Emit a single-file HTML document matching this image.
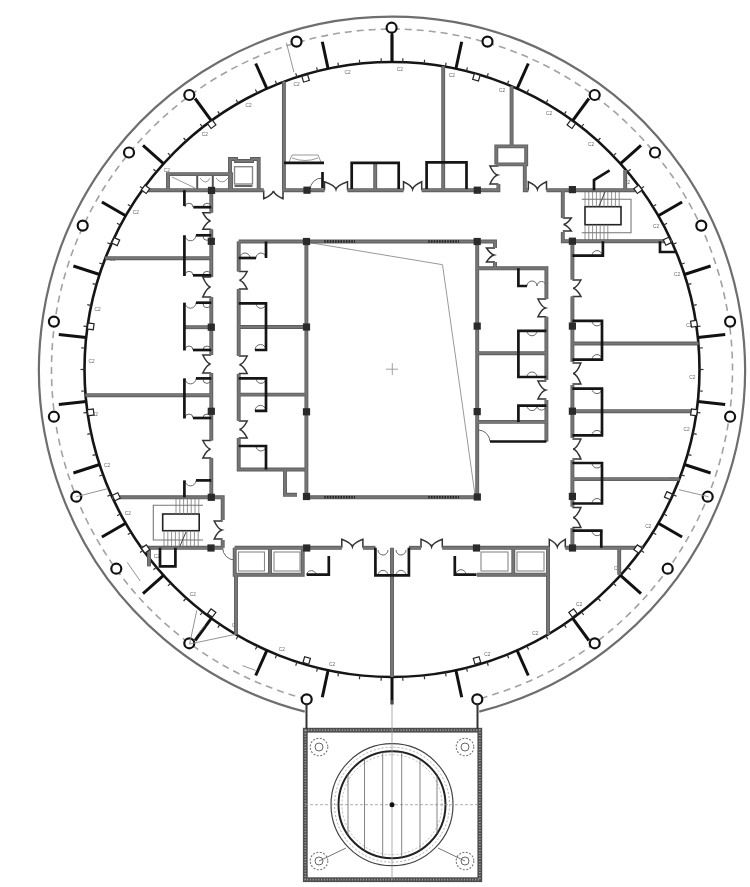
<!DOCTYPE html>
<html><head><meta charset="utf-8"><style>
html,body{margin:0;padding:0;background:#fff;}
svg{display:block;filter:blur(0.35px);}
</style></head><body>
<svg width="750" height="887" viewBox="0 0 750 887">
<path d="M304.8,711.6 A353.0,353.0 0 1 1 479.2,711.6" fill="none" stroke="#6e6e6e" stroke-width="2.2"/>
<path d="M306.7,699.2 A340.5,340.5 0 1 1 477.3,699.2" fill="none" stroke="#a2a2a2" stroke-width="1.6" stroke-dasharray="7 5"/>
<circle cx="392.0" cy="369.5" r="307.5" fill="none" stroke="#151515" stroke-width="2.6"/>
<line x1="392.0" y1="62.0" x2="392.0" y2="34.5" stroke="#111" stroke-width="3"/>
<line x1="455.9" y1="68.7" x2="461.7" y2="41.8" stroke="#111" stroke-width="3"/>
<line x1="517.1" y1="88.6" x2="528.3" y2="63.5" stroke="#111" stroke-width="3"/>
<line x1="572.7" y1="120.7" x2="588.9" y2="98.5" stroke="#111" stroke-width="3"/>
<line x1="620.5" y1="163.7" x2="641.0" y2="145.3" stroke="#111" stroke-width="3"/>
<line x1="658.3" y1="215.7" x2="682.1" y2="202.0" stroke="#111" stroke-width="3"/>
<line x1="684.4" y1="274.5" x2="710.6" y2="266.0" stroke="#111" stroke-width="3"/>
<line x1="697.8" y1="337.4" x2="725.2" y2="334.5" stroke="#111" stroke-width="3"/>
<line x1="697.8" y1="401.6" x2="725.2" y2="404.5" stroke="#111" stroke-width="3"/>
<line x1="684.4" y1="464.5" x2="710.6" y2="473.0" stroke="#111" stroke-width="3"/>
<line x1="658.3" y1="523.2" x2="682.1" y2="537.0" stroke="#111" stroke-width="3"/>
<line x1="620.5" y1="575.3" x2="641.0" y2="593.7" stroke="#111" stroke-width="3"/>
<line x1="572.7" y1="618.3" x2="588.9" y2="640.5" stroke="#111" stroke-width="3"/>
<line x1="517.1" y1="650.4" x2="528.3" y2="675.5" stroke="#111" stroke-width="3"/>
<line x1="455.9" y1="670.3" x2="461.7" y2="697.2" stroke="#111" stroke-width="3"/>
<line x1="392.0" y1="677.0" x2="392.0" y2="704.5" stroke="#111" stroke-width="3"/>
<line x1="328.1" y1="670.3" x2="322.3" y2="697.2" stroke="#111" stroke-width="3"/>
<line x1="266.9" y1="650.4" x2="255.7" y2="675.5" stroke="#111" stroke-width="3"/>
<line x1="211.3" y1="618.3" x2="195.1" y2="640.5" stroke="#111" stroke-width="3"/>
<line x1="163.5" y1="575.3" x2="143.0" y2="593.7" stroke="#111" stroke-width="3"/>
<line x1="125.7" y1="523.3" x2="101.9" y2="537.0" stroke="#111" stroke-width="3"/>
<line x1="99.6" y1="464.5" x2="73.4" y2="473.0" stroke="#111" stroke-width="3"/>
<line x1="86.2" y1="401.6" x2="58.8" y2="404.5" stroke="#111" stroke-width="3"/>
<line x1="86.2" y1="337.4" x2="58.8" y2="334.5" stroke="#111" stroke-width="3"/>
<line x1="99.6" y1="274.5" x2="73.4" y2="266.0" stroke="#111" stroke-width="3"/>
<line x1="125.7" y1="215.7" x2="101.9" y2="202.0" stroke="#111" stroke-width="3"/>
<line x1="163.5" y1="163.7" x2="143.0" y2="145.3" stroke="#111" stroke-width="3"/>
<line x1="211.3" y1="120.7" x2="195.1" y2="98.5" stroke="#111" stroke-width="3"/>
<line x1="266.9" y1="88.6" x2="255.7" y2="63.5" stroke="#111" stroke-width="3"/>
<line x1="328.1" y1="68.7" x2="322.3" y2="41.8" stroke="#111" stroke-width="3"/>
<line x1="392" y1="33" x2="392" y2="62" stroke="#111" stroke-width="2.4"/>
<circle cx="391.6" cy="27.7" r="5" fill="#fff" stroke="#111" stroke-width="2.2"/>
<circle cx="296.5" cy="41.6" r="5" fill="#fff" stroke="#111" stroke-width="2.2"/>
<circle cx="487.5" cy="41.6" r="5" fill="#fff" stroke="#111" stroke-width="2.2"/>
<circle cx="189.3" cy="95.0" r="5" fill="#fff" stroke="#111" stroke-width="2.2"/>
<circle cx="594.7" cy="95.0" r="5" fill="#fff" stroke="#111" stroke-width="2.2"/>
<circle cx="129.0" cy="152.5" r="5" fill="#fff" stroke="#111" stroke-width="2.2"/>
<circle cx="655.0" cy="152.5" r="5" fill="#fff" stroke="#111" stroke-width="2.2"/>
<circle cx="82.7" cy="225.6" r="5" fill="#fff" stroke="#111" stroke-width="2.2"/>
<circle cx="701.3" cy="225.6" r="5" fill="#fff" stroke="#111" stroke-width="2.2"/>
<circle cx="53.9" cy="321.6" r="5" fill="#fff" stroke="#111" stroke-width="2.2"/>
<circle cx="730.1" cy="321.6" r="5" fill="#fff" stroke="#111" stroke-width="2.2"/>
<circle cx="53.9" cy="416.7" r="5" fill="#fff" stroke="#111" stroke-width="2.2"/>
<circle cx="730.1" cy="416.7" r="5" fill="#fff" stroke="#111" stroke-width="2.2"/>
<circle cx="76.3" cy="496.7" r="5" fill="#fff" stroke="#111" stroke-width="2.2"/>
<circle cx="707.7" cy="496.7" r="5" fill="#fff" stroke="#111" stroke-width="2.2"/>
<circle cx="116.3" cy="568.7" r="5" fill="#fff" stroke="#111" stroke-width="2.2"/>
<circle cx="667.7" cy="568.7" r="5" fill="#fff" stroke="#111" stroke-width="2.2"/>
<circle cx="189.3" cy="643.3" r="5" fill="#fff" stroke="#111" stroke-width="2.2"/>
<circle cx="594.7" cy="643.3" r="5" fill="#fff" stroke="#111" stroke-width="2.2"/>
<circle cx="306.7" cy="699.3" r="5" fill="#fff" stroke="#111" stroke-width="2.2"/>
<circle cx="477.3" cy="699.3" r="5" fill="#fff" stroke="#111" stroke-width="2.2"/>
<line x1="402.7" y1="62.2" x2="402.9" y2="58.2" stroke="#333" stroke-width="1.2"/>
<line x1="424.1" y1="63.7" x2="424.6" y2="59.7" stroke="#333" stroke-width="1.2"/>
<line x1="445.4" y1="66.7" x2="446.1" y2="62.7" stroke="#333" stroke-width="1.2"/>
<line x1="466.4" y1="71.1" x2="467.4" y2="67.3" stroke="#333" stroke-width="1.2"/>
<line x1="487.0" y1="77.1" x2="488.3" y2="73.2" stroke="#333" stroke-width="1.2"/>
<line x1="507.2" y1="84.4" x2="508.7" y2="80.7" stroke="#333" stroke-width="1.2"/>
<line x1="526.8" y1="93.1" x2="528.6" y2="89.5" stroke="#333" stroke-width="1.2"/>
<line x1="545.8" y1="103.2" x2="547.8" y2="99.7" stroke="#333" stroke-width="1.2"/>
<line x1="564.0" y1="114.6" x2="566.2" y2="111.3" stroke="#333" stroke-width="1.2"/>
<line x1="581.3" y1="127.2" x2="583.8" y2="124.0" stroke="#333" stroke-width="1.2"/>
<line x1="597.8" y1="141.0" x2="600.4" y2="138.0" stroke="#333" stroke-width="1.2"/>
<line x1="613.2" y1="155.9" x2="616.1" y2="153.1" stroke="#333" stroke-width="1.2"/>
<line x1="627.6" y1="171.8" x2="630.6" y2="169.3" stroke="#333" stroke-width="1.2"/>
<line x1="640.8" y1="188.8" x2="644.0" y2="186.4" stroke="#333" stroke-width="1.2"/>
<line x1="652.8" y1="206.5" x2="656.2" y2="204.4" stroke="#333" stroke-width="1.2"/>
<line x1="663.5" y1="225.1" x2="667.0" y2="223.3" stroke="#333" stroke-width="1.2"/>
<line x1="672.9" y1="244.4" x2="676.6" y2="242.8" stroke="#333" stroke-width="1.2"/>
<line x1="681.0" y1="264.3" x2="684.7" y2="263.0" stroke="#333" stroke-width="1.2"/>
<line x1="687.6" y1="284.7" x2="691.4" y2="283.6" stroke="#333" stroke-width="1.2"/>
<line x1="692.8" y1="305.6" x2="696.7" y2="304.7" stroke="#333" stroke-width="1.2"/>
<line x1="696.5" y1="326.7" x2="700.5" y2="326.1" stroke="#333" stroke-width="1.2"/>
<line x1="698.8" y1="348.0" x2="702.7" y2="347.8" stroke="#333" stroke-width="1.2"/>
<line x1="699.5" y1="369.5" x2="703.5" y2="369.5" stroke="#333" stroke-width="1.2"/>
<line x1="698.8" y1="391.0" x2="702.7" y2="391.2" stroke="#333" stroke-width="1.2"/>
<line x1="696.5" y1="412.3" x2="700.5" y2="412.9" stroke="#333" stroke-width="1.2"/>
<line x1="692.8" y1="433.4" x2="696.7" y2="434.3" stroke="#333" stroke-width="1.2"/>
<line x1="687.6" y1="454.3" x2="691.4" y2="455.4" stroke="#333" stroke-width="1.2"/>
<line x1="681.0" y1="474.7" x2="684.7" y2="476.0" stroke="#333" stroke-width="1.2"/>
<line x1="672.9" y1="494.6" x2="676.6" y2="496.2" stroke="#333" stroke-width="1.2"/>
<line x1="663.5" y1="513.9" x2="667.0" y2="515.7" stroke="#333" stroke-width="1.2"/>
<line x1="652.8" y1="532.5" x2="656.2" y2="534.6" stroke="#333" stroke-width="1.2"/>
<line x1="640.8" y1="550.2" x2="644.0" y2="552.6" stroke="#333" stroke-width="1.2"/>
<line x1="627.6" y1="567.2" x2="630.6" y2="569.7" stroke="#333" stroke-width="1.2"/>
<line x1="613.2" y1="583.1" x2="616.1" y2="585.9" stroke="#333" stroke-width="1.2"/>
<line x1="597.8" y1="598.0" x2="600.4" y2="601.0" stroke="#333" stroke-width="1.2"/>
<line x1="581.3" y1="611.8" x2="583.8" y2="615.0" stroke="#333" stroke-width="1.2"/>
<line x1="564.0" y1="624.4" x2="566.2" y2="627.7" stroke="#333" stroke-width="1.2"/>
<line x1="545.8" y1="635.8" x2="547.8" y2="639.3" stroke="#333" stroke-width="1.2"/>
<line x1="526.8" y1="645.9" x2="528.6" y2="649.5" stroke="#333" stroke-width="1.2"/>
<line x1="507.2" y1="654.6" x2="508.7" y2="658.3" stroke="#333" stroke-width="1.2"/>
<line x1="487.0" y1="661.9" x2="488.3" y2="665.8" stroke="#333" stroke-width="1.2"/>
<line x1="466.4" y1="667.9" x2="467.4" y2="671.7" stroke="#333" stroke-width="1.2"/>
<line x1="445.4" y1="672.3" x2="446.1" y2="676.3" stroke="#333" stroke-width="1.2"/>
<line x1="424.1" y1="675.3" x2="424.6" y2="679.3" stroke="#333" stroke-width="1.2"/>
<line x1="402.7" y1="676.8" x2="402.9" y2="680.8" stroke="#333" stroke-width="1.2"/>
<line x1="381.3" y1="676.8" x2="381.1" y2="680.8" stroke="#333" stroke-width="1.2"/>
<line x1="359.9" y1="675.3" x2="359.4" y2="679.3" stroke="#333" stroke-width="1.2"/>
<line x1="338.6" y1="672.3" x2="337.9" y2="676.3" stroke="#333" stroke-width="1.2"/>
<line x1="317.6" y1="667.9" x2="316.6" y2="671.7" stroke="#333" stroke-width="1.2"/>
<line x1="297.0" y1="661.9" x2="295.7" y2="665.8" stroke="#333" stroke-width="1.2"/>
<line x1="276.8" y1="654.6" x2="275.3" y2="658.3" stroke="#333" stroke-width="1.2"/>
<line x1="257.2" y1="645.9" x2="255.4" y2="649.5" stroke="#333" stroke-width="1.2"/>
<line x1="238.2" y1="635.8" x2="236.2" y2="639.3" stroke="#333" stroke-width="1.2"/>
<line x1="220.0" y1="624.4" x2="217.8" y2="627.7" stroke="#333" stroke-width="1.2"/>
<line x1="202.7" y1="611.8" x2="200.2" y2="615.0" stroke="#333" stroke-width="1.2"/>
<line x1="186.2" y1="598.0" x2="183.6" y2="601.0" stroke="#333" stroke-width="1.2"/>
<line x1="170.8" y1="583.1" x2="167.9" y2="585.9" stroke="#333" stroke-width="1.2"/>
<line x1="156.4" y1="567.2" x2="153.4" y2="569.7" stroke="#333" stroke-width="1.2"/>
<line x1="143.2" y1="550.2" x2="140.0" y2="552.6" stroke="#333" stroke-width="1.2"/>
<line x1="131.2" y1="532.5" x2="127.8" y2="534.6" stroke="#333" stroke-width="1.2"/>
<line x1="120.5" y1="513.9" x2="117.0" y2="515.7" stroke="#333" stroke-width="1.2"/>
<line x1="111.1" y1="494.6" x2="107.4" y2="496.2" stroke="#333" stroke-width="1.2"/>
<line x1="103.0" y1="474.7" x2="99.3" y2="476.0" stroke="#333" stroke-width="1.2"/>
<line x1="96.4" y1="454.3" x2="92.6" y2="455.4" stroke="#333" stroke-width="1.2"/>
<line x1="91.2" y1="433.4" x2="87.3" y2="434.3" stroke="#333" stroke-width="1.2"/>
<line x1="87.5" y1="412.3" x2="83.5" y2="412.9" stroke="#333" stroke-width="1.2"/>
<line x1="85.2" y1="391.0" x2="81.3" y2="391.2" stroke="#333" stroke-width="1.2"/>
<line x1="84.5" y1="369.5" x2="80.5" y2="369.5" stroke="#333" stroke-width="1.2"/>
<line x1="85.2" y1="348.0" x2="81.3" y2="347.8" stroke="#333" stroke-width="1.2"/>
<line x1="87.5" y1="326.7" x2="83.5" y2="326.1" stroke="#333" stroke-width="1.2"/>
<line x1="91.2" y1="305.6" x2="87.3" y2="304.7" stroke="#333" stroke-width="1.2"/>
<line x1="96.4" y1="284.7" x2="92.6" y2="283.6" stroke="#333" stroke-width="1.2"/>
<line x1="103.0" y1="264.3" x2="99.3" y2="263.0" stroke="#333" stroke-width="1.2"/>
<line x1="111.1" y1="244.4" x2="107.4" y2="242.8" stroke="#333" stroke-width="1.2"/>
<line x1="120.5" y1="225.1" x2="117.0" y2="223.3" stroke="#333" stroke-width="1.2"/>
<line x1="131.2" y1="206.5" x2="127.8" y2="204.4" stroke="#333" stroke-width="1.2"/>
<line x1="143.2" y1="188.8" x2="140.0" y2="186.4" stroke="#333" stroke-width="1.2"/>
<line x1="156.4" y1="171.8" x2="153.4" y2="169.3" stroke="#333" stroke-width="1.2"/>
<line x1="170.8" y1="155.9" x2="167.9" y2="153.1" stroke="#333" stroke-width="1.2"/>
<line x1="186.2" y1="141.0" x2="183.6" y2="138.0" stroke="#333" stroke-width="1.2"/>
<line x1="202.7" y1="127.2" x2="200.2" y2="124.0" stroke="#333" stroke-width="1.2"/>
<line x1="220.0" y1="114.6" x2="217.8" y2="111.3" stroke="#333" stroke-width="1.2"/>
<line x1="238.2" y1="103.2" x2="236.2" y2="99.7" stroke="#333" stroke-width="1.2"/>
<line x1="257.2" y1="93.1" x2="255.4" y2="89.5" stroke="#333" stroke-width="1.2"/>
<line x1="276.8" y1="84.4" x2="275.3" y2="80.7" stroke="#333" stroke-width="1.2"/>
<line x1="297.0" y1="77.1" x2="295.7" y2="73.2" stroke="#333" stroke-width="1.2"/>
<line x1="317.6" y1="71.1" x2="316.6" y2="67.3" stroke="#333" stroke-width="1.2"/>
<line x1="338.6" y1="66.7" x2="337.9" y2="62.7" stroke="#333" stroke-width="1.2"/>
<line x1="359.9" y1="63.7" x2="359.4" y2="59.7" stroke="#333" stroke-width="1.2"/>
<line x1="381.3" y1="62.2" x2="381.1" y2="58.2" stroke="#333" stroke-width="1.2"/>
<rect x="305.3" y="730.2" width="174.5" height="149.5" fill="none" stroke="#4e4e4e" stroke-width="4.8"/>
<rect x="305.3" y="730.2" width="174.5" height="149.5" fill="none" stroke="#9a9a9a" stroke-width="1.8" stroke-dasharray="1.2 1.6"/>
<line x1="306.5" y1="704" x2="306.5" y2="729" stroke="#333" stroke-width="2"/>
<line x1="477.5" y1="704" x2="477.5" y2="729" stroke="#333" stroke-width="2"/>
<circle cx="392" cy="804.7" r="61" fill="none" stroke="#444" stroke-width="1.2"/>
<circle cx="392" cy="804.7" r="53.5" fill="none" stroke="#222" stroke-width="2"/>
<circle cx="392" cy="804.7" r="57.5" fill="none" stroke="#999" stroke-width="0.8" stroke-dasharray="2 2"/>
<circle cx="392" cy="804.7" r="50" fill="none" stroke="#aaa" stroke-width="0.8" stroke-dasharray="2 2"/>
<line x1="305" y1="804.7" x2="480" y2="804.7" stroke="#999" stroke-width="0.8" stroke-dasharray="3 2"/>
<line x1="392" y1="700" x2="392" y2="880" stroke="#999" stroke-width="0.8"/>
<line x1="348" y1="774.3" x2="348" y2="835.1" stroke="#666" stroke-width="0.8"/>
<line x1="364.5" y1="758.8" x2="364.5" y2="850.6" stroke="#666" stroke-width="0.8"/>
<line x1="382.7" y1="752.0" x2="382.7" y2="857.4" stroke="#666" stroke-width="0.8"/>
<line x1="401.7" y1="752.1" x2="401.7" y2="857.3" stroke="#666" stroke-width="0.8"/>
<line x1="420" y1="759.1" x2="420" y2="850.3" stroke="#666" stroke-width="0.8"/>
<line x1="437" y1="775.8" x2="437" y2="833.6" stroke="#666" stroke-width="0.8"/>
<circle cx="392" cy="804.7" r="2.5" fill="#111"/>
<circle cx="319" cy="747" r="8.8" fill="none" stroke="#777" stroke-width="1.1" stroke-dasharray="2 1.5"/>
<circle cx="319" cy="747" r="4" fill="none" stroke="#666" stroke-width="1"/>
<circle cx="465" cy="747" r="8.8" fill="none" stroke="#777" stroke-width="1.1" stroke-dasharray="2 1.5"/>
<circle cx="465" cy="747" r="4" fill="none" stroke="#666" stroke-width="1"/>
<circle cx="319" cy="861" r="8.8" fill="none" stroke="#777" stroke-width="1.1" stroke-dasharray="2 1.5"/>
<circle cx="319" cy="861" r="4" fill="none" stroke="#666" stroke-width="1"/>
<circle cx="465" cy="861" r="8.8" fill="none" stroke="#777" stroke-width="1.1" stroke-dasharray="2 1.5"/>
<circle cx="465" cy="861" r="4" fill="none" stroke="#666" stroke-width="1"/>
<line x1="319" y1="861" x2="346" y2="848" stroke="#666" stroke-width="0.9"/>
<line x1="465" y1="861" x2="438" y2="848" stroke="#666" stroke-width="0.9"/>
<line x1="197.2" y1="174.1" x2="197.2" y2="190" stroke="#555" stroke-width="2"/>
<line x1="212.8" y1="174.1" x2="212.8" y2="190" stroke="#555" stroke-width="2"/>
<path d="M172,177 L195,188 M200,178 Q206,186 210,178 M216,178 Q222,186 228,178" fill="none" stroke="#999" stroke-width="1"/>
<rect x="234.5" y="166.7" width="18" height="17.3" fill="none" stroke="#888" stroke-width="1.4"/>
<line x1="234.5" y1="186" x2="252.5" y2="186" stroke="#333" stroke-width="1.5"/>
<path d="M289,162 L292,155 L318,155 L321,162 M292,158 Q305,163 318,158" fill="none" stroke="#999" stroke-width="1"/>
<path d="M203,505.3 H153.3 V540 H203" fill="none" stroke="#777" stroke-width="1.1"/>
<rect x="162.7" y="514" width="36.5" height="16.7" fill="none" stroke="#222" stroke-width="1.6"/>
<line x1="176.0" y1="497.3" x2="176.0" y2="514" stroke="#777" stroke-width="0.8"/>
<line x1="179.8" y1="497.3" x2="179.8" y2="514" stroke="#777" stroke-width="0.8"/>
<line x1="183.6" y1="497.3" x2="183.6" y2="514" stroke="#777" stroke-width="0.8"/>
<line x1="187.4" y1="497.3" x2="187.4" y2="514" stroke="#777" stroke-width="0.8"/>
<line x1="191.2" y1="497.3" x2="191.2" y2="514" stroke="#777" stroke-width="0.8"/>
<line x1="195.0" y1="497.3" x2="195.0" y2="514" stroke="#777" stroke-width="0.8"/>
<line x1="198.8" y1="497.3" x2="198.8" y2="514" stroke="#777" stroke-width="0.8"/>
<line x1="164.0" y1="530.7" x2="164.0" y2="547.8" stroke="#777" stroke-width="0.8"/>
<line x1="167.8" y1="530.7" x2="167.8" y2="547.8" stroke="#777" stroke-width="0.8"/>
<line x1="171.6" y1="530.7" x2="171.6" y2="547.8" stroke="#777" stroke-width="0.8"/>
<line x1="175.4" y1="530.7" x2="175.4" y2="547.8" stroke="#777" stroke-width="0.8"/>
<line x1="179.2" y1="530.7" x2="179.2" y2="547.8" stroke="#777" stroke-width="0.8"/>
<line x1="183.0" y1="530.7" x2="183.0" y2="547.8" stroke="#777" stroke-width="0.8"/>
<line x1="186.8" y1="530.7" x2="186.8" y2="547.8" stroke="#777" stroke-width="0.8"/>
<line x1="190.6" y1="530.7" x2="190.6" y2="547.8" stroke="#777" stroke-width="0.8"/>
<line x1="194.4" y1="530.7" x2="194.4" y2="547.8" stroke="#777" stroke-width="0.8"/>
<line x1="198.2" y1="530.7" x2="198.2" y2="547.8" stroke="#777" stroke-width="0.8"/>
<line x1="180" y1="546" x2="186" y2="532" stroke="#444" stroke-width="1"/>
<rect x="238.5" y="552" width="26" height="19" fill="none" stroke="#888" stroke-width="1.1"/>
<rect x="274" y="552" width="26" height="19" fill="none" stroke="#888" stroke-width="1.1"/>
<rect x="481" y="552" width="27" height="19" fill="none" stroke="#888" stroke-width="1.1"/>
<rect x="517" y="552" width="27" height="19" fill="none" stroke="#888" stroke-width="1.1"/>
<path d="M581.7,199.3 H631 V232.7 H581.7" fill="none" stroke="#777" stroke-width="1.1"/>
<rect x="585" y="206.7" width="36" height="18" fill="none" stroke="#222" stroke-width="1.6"/>
<line x1="585.0" y1="190.2" x2="585.0" y2="206.7" stroke="#777" stroke-width="0.8"/>
<line x1="588.8" y1="190.2" x2="588.8" y2="206.7" stroke="#777" stroke-width="0.8"/>
<line x1="592.6" y1="190.2" x2="592.6" y2="206.7" stroke="#777" stroke-width="0.8"/>
<line x1="596.4" y1="190.2" x2="596.4" y2="206.7" stroke="#777" stroke-width="0.8"/>
<line x1="600.2" y1="190.2" x2="600.2" y2="206.7" stroke="#777" stroke-width="0.8"/>
<line x1="604.0" y1="190.2" x2="604.0" y2="206.7" stroke="#777" stroke-width="0.8"/>
<line x1="607.8" y1="190.2" x2="607.8" y2="206.7" stroke="#777" stroke-width="0.8"/>
<line x1="611.6" y1="190.2" x2="611.6" y2="206.7" stroke="#777" stroke-width="0.8"/>
<line x1="615.4" y1="190.2" x2="615.4" y2="206.7" stroke="#777" stroke-width="0.8"/>
<line x1="619.2" y1="190.2" x2="619.2" y2="206.7" stroke="#777" stroke-width="0.8"/>
<line x1="585.0" y1="224.7" x2="585.0" y2="241.2" stroke="#777" stroke-width="0.8"/>
<line x1="588.8" y1="224.7" x2="588.8" y2="241.2" stroke="#777" stroke-width="0.8"/>
<line x1="592.6" y1="224.7" x2="592.6" y2="241.2" stroke="#777" stroke-width="0.8"/>
<line x1="596.4" y1="224.7" x2="596.4" y2="241.2" stroke="#777" stroke-width="0.8"/>
<line x1="600.2" y1="224.7" x2="600.2" y2="241.2" stroke="#777" stroke-width="0.8"/>
<line x1="604.0" y1="224.7" x2="604.0" y2="241.2" stroke="#777" stroke-width="0.8"/>
<line x1="607.8" y1="224.7" x2="607.8" y2="241.2" stroke="#777" stroke-width="0.8"/>
<line x1="599" y1="206" x2="605" y2="192" stroke="#444" stroke-width="1"/>
<polyline points="306,242 442.5,264.7 461.7,400 475,495" fill="none" stroke="#999" stroke-width="1"/>
<path d="M386,369.2 H398 M392.3,363 V375" stroke="#999" stroke-width="0.9"/>
<path d="M211.3,212.7 H202.8 Q206.6,220.0 210.5,221.0 Q206.6,222.0 202.8,229.3 H211.3" fill="none" stroke="#333" stroke-width="1.5"/>
<path d="M211.3,277.0 H202.8 Q206.6,286.0 210.5,287.0 Q206.6,288.0 202.8,297.0 H211.3" fill="none" stroke="#333" stroke-width="1.5"/>
<path d="M211.3,355.0 H202.8 Q206.6,363.0 210.5,364.0 Q206.6,365.0 202.8,373.0 H211.3" fill="none" stroke="#333" stroke-width="1.5"/>
<path d="M211.3,440.5 H202.8 Q206.6,448.2 210.5,449.2 Q206.6,450.2 202.8,458.0 H211.3" fill="none" stroke="#333" stroke-width="1.5"/>
<path d="M238.7,271.5 H247.2 Q243.4,279.2 239.5,280.2 Q243.4,281.2 247.2,289.0 H238.7" fill="none" stroke="#333" stroke-width="1.5"/>
<path d="M238.7,356.0 H247.2 Q243.4,363.8 239.5,364.8 Q243.4,365.8 247.2,373.5 H238.7" fill="none" stroke="#333" stroke-width="1.5"/>
<path d="M238.7,421.0 H247.2 Q243.4,428.5 239.5,429.5 Q243.4,430.5 247.2,438.0 H238.7" fill="none" stroke="#333" stroke-width="1.5"/>
<path d="M546.4,299.0 H537.9 Q541.7,306.9 545.5,307.9 Q541.7,308.9 537.9,316.8 H546.4" fill="none" stroke="#333" stroke-width="1.5"/>
<path d="M546.4,381.0 H537.9 Q541.7,389.0 545.5,390.0 Q541.7,391.0 537.9,399.0 H546.4" fill="none" stroke="#333" stroke-width="1.5"/>
<path d="M572.4,280.0 H580.9 Q577.1,287.2 573.2,288.2 Q577.1,289.2 580.9,296.4 H572.4" fill="none" stroke="#333" stroke-width="1.5"/>
<path d="M572.4,363.0 H580.9 Q577.1,372.5 573.2,373.5 Q577.1,374.5 580.9,384.0 H572.4" fill="none" stroke="#333" stroke-width="1.5"/>
<path d="M572.4,439.0 H580.9 Q577.1,448.0 573.2,449.0 Q577.1,450.0 580.9,459.0 H572.4" fill="none" stroke="#333" stroke-width="1.5"/>
<path d="M572.4,507.5 H580.9 Q577.1,516.5 573.2,517.5 Q577.1,518.5 580.9,527.5 H572.4" fill="none" stroke="#333" stroke-width="1.5"/>
<path d="M498.4,166.0 H489.9 Q493.7,174.0 497.5,175.0 Q493.7,176.0 489.9,184.0 H498.4" fill="none" stroke="#333" stroke-width="1.5"/>
<path d="M495.0,248.0 H486.5 Q490.3,254.0 494.1,255.0 Q490.3,256.0 486.5,262.0 H495.0" fill="none" stroke="#333" stroke-width="1.5"/>
<path d="M222.7,521.0 H214.2 Q218.0,529.0 221.8,530.0 Q218.0,531.0 214.2,539.0 H222.7" fill="none" stroke="#333" stroke-width="1.5"/>
<path d="M562.8,218.0 H571.3 Q567.5,223.5 563.6,224.5 Q567.5,225.5 571.3,231.0 H562.8" fill="none" stroke="#333" stroke-width="1.5"/>
<path d="M263.7,190.2 V198.7 Q272.4,194.9 273.4,191.0 Q274.4,194.9 283.0,198.7 V190.2" fill="none" stroke="#333" stroke-width="1.5"/>
<path d="M324.5,190.2 V181.7 Q335.0,185.5 336.0,189.3 Q337.0,185.5 347.5,181.7 V190.2" fill="none" stroke="#333" stroke-width="1.5"/>
<path d="M403.5,190.2 V181.7 Q411.6,185.5 412.6,189.3 Q413.6,185.5 421.7,181.7 V190.2" fill="none" stroke="#333" stroke-width="1.5"/>
<path d="M528.3,190.2 V181.7 Q536.4,185.5 537.4,189.3 Q538.4,185.5 546.5,181.7 V190.2" fill="none" stroke="#333" stroke-width="1.5"/>
<path d="M341.8,547.8 V539.3 Q351.4,543.1 352.4,546.9 Q353.4,543.1 362.9,539.3 V547.8" fill="none" stroke="#333" stroke-width="1.5"/>
<path d="M421.0,547.8 V539.3 Q430.6,543.1 431.6,546.9 Q432.6,543.1 442.3,539.3 V547.8" fill="none" stroke="#333" stroke-width="1.5"/>
<path d="M549.3,547.8 V539.3 Q556.3,543.1 557.3,546.9 Q558.3,543.1 565.3,539.3 V547.8" fill="none" stroke="#333" stroke-width="1.5"/>
<path d="M185.0,207.2 A4.0,4.0 0 0 1 193.0,207.2" fill="none" stroke="#666" stroke-width="1"/>
<path d="M185.0,275.3 A4.0,4.0 0 0 1 193.0,275.3" fill="none" stroke="#666" stroke-width="1"/>
<path d="M185.0,350.0 A4.0,4.0 0 0 1 193.0,350.0" fill="none" stroke="#666" stroke-width="1"/>
<path d="M185.0,418.0 A4.0,4.0 0 0 1 193.0,418.0" fill="none" stroke="#666" stroke-width="1"/>
<path d="M185.0,235.3 A5.5,5.5 0 0 0 196.0,235.3" fill="none" stroke="#666" stroke-width="1"/>
<path d="M185.0,302.7 A5.5,5.5 0 0 0 196.0,302.7" fill="none" stroke="#666" stroke-width="1"/>
<path d="M185.0,378.4 A5.5,5.5 0 0 0 196.0,378.4" fill="none" stroke="#666" stroke-width="1"/>
<path d="M185.0,480.4 A5.5,5.5 0 0 0 196.0,480.4" fill="none" stroke="#666" stroke-width="1"/>
<path d="M203.0,207.2 A4.0,4.0 0 0 1 211.0,207.2" fill="none" stroke="#666" stroke-width="1"/>
<path d="M203.0,275.3 A4.0,4.0 0 0 1 211.0,275.3" fill="none" stroke="#666" stroke-width="1"/>
<path d="M203.0,350.0 A4.0,4.0 0 0 1 211.0,350.0" fill="none" stroke="#666" stroke-width="1"/>
<path d="M203.0,418.0 A4.0,4.0 0 0 1 211.0,418.0" fill="none" stroke="#666" stroke-width="1"/>
<path d="M203.0,236.3 A4.0,4.0 0 0 0 211.0,236.3" fill="none" stroke="#666" stroke-width="1"/>
<path d="M203.0,303.7 A4.0,4.0 0 0 0 211.0,303.7" fill="none" stroke="#666" stroke-width="1"/>
<path d="M203.0,379.4 A4.0,4.0 0 0 0 211.0,379.4" fill="none" stroke="#666" stroke-width="1"/>
<path d="M240.0,258.0 A5.0,5.0 0 0 1 250.0,258.0" fill="none" stroke="#666" stroke-width="1"/>
<path d="M256.0,258.0 A5.0,5.0 0 0 1 266.0,258.0" fill="none" stroke="#666" stroke-width="1"/>
<path d="M256.0,303.3 A5.0,5.0 0 0 0 266.0,303.3" fill="none" stroke="#666" stroke-width="1"/>
<path d="M256.0,378.4 A5.0,5.0 0 0 0 266.0,378.4" fill="none" stroke="#666" stroke-width="1"/>
<path d="M256.0,446.0 A5.0,5.0 0 0 0 266.0,446.0" fill="none" stroke="#666" stroke-width="1"/>
<path d="M255.0,350.0 A5.5,5.5 0 0 1 266.0,350.0" fill="none" stroke="#666" stroke-width="1"/>
<path d="M255.0,410.9 A5.5,5.5 0 0 1 266.0,410.9" fill="none" stroke="#666" stroke-width="1"/>
<path d="M592.0,255.6 A5.0,5.0 0 0 1 602.0,255.6" fill="none" stroke="#666" stroke-width="1"/>
<path d="M592.0,359.6 A5.0,5.0 0 0 1 602.0,359.6" fill="none" stroke="#666" stroke-width="1"/>
<path d="M592.0,435.4 A5.0,5.0 0 0 1 602.0,435.4" fill="none" stroke="#666" stroke-width="1"/>
<path d="M592.0,503.5 A5.0,5.0 0 0 1 602.0,503.5" fill="none" stroke="#666" stroke-width="1"/>
<path d="M592.0,320.9 A5.0,5.0 0 0 0 602.0,320.9" fill="none" stroke="#666" stroke-width="1"/>
<path d="M592.0,388.6 A5.0,5.0 0 0 0 602.0,388.6" fill="none" stroke="#666" stroke-width="1"/>
<path d="M592.0,463.0 A5.0,5.0 0 0 0 602.0,463.0" fill="none" stroke="#666" stroke-width="1"/>
<path d="M592.0,530.7 A5.0,5.0 0 0 0 602.0,530.7" fill="none" stroke="#666" stroke-width="1"/>
<path d="M527.0,286.0 A5.0,5.0 0 0 1 537.0,286.0" fill="none" stroke="#666" stroke-width="1"/>
<path d="M537.0,286.0 A4.5,4.5 0 0 1 546.0,286.0" fill="none" stroke="#666" stroke-width="1"/>
<path d="M527.0,330.8 A5.0,5.0 0 0 0 537.0,330.8" fill="none" stroke="#666" stroke-width="1"/>
<path d="M527.0,377.0 A5.0,5.0 0 0 1 537.0,377.0" fill="none" stroke="#666" stroke-width="1"/>
<path d="M527.0,405.6 A5.0,5.0 0 0 0 537.0,405.6" fill="none" stroke="#666" stroke-width="1"/>
<path d="M537.0,405.6 A4.5,4.5 0 0 0 546.0,405.6" fill="none" stroke="#666" stroke-width="1"/>
<path d="M478.5,430.0 A12.0,12.0 0 0 1 490.0,441.5" fill="none" stroke="#666" stroke-width="1"/>
<path d="M222.7,548.0 A12.0,12.0 0 0 0 234.7,560.0" fill="none" stroke="#666" stroke-width="1"/>
<path d="M306.7,574.7 A4.7,4.7 0 0 1 316.0,574.7" fill="none" stroke="#666" stroke-width="1"/>
<path d="M378.0,575.3 A5.0,5.0 0 0 1 388.0,575.3" fill="none" stroke="#666" stroke-width="1"/>
<path d="M396.0,575.3 A5.0,5.0 0 0 1 406.0,575.3" fill="none" stroke="#666" stroke-width="1"/>
<path d="M456.0,574.7 A5.0,5.0 0 0 1 466.0,574.7" fill="none" stroke="#666" stroke-width="1"/>
<path d="M378.0,550.0 A5.0,5.0 0 0 0 388.0,550.0" fill="none" stroke="#666" stroke-width="1"/>
<path d="M396.0,550.0 A5.0,5.0 0 0 0 406.0,550.0" fill="none" stroke="#666" stroke-width="1"/>
<path d="M310.0,190.2 A12.0,12.0 0 0 1 322.5,178.0" fill="none" stroke="#666" stroke-width="1"/>
<path d="M189.6,644 L196.8,610.4 M189.6,644 L235.2,634.4 M242.4,665.6 L255.6,670.4 M286.4,42.7 L293.9,72 M679,489.7 L708.4,496.7 M205,625 L198,634 M76.3,496.7 L107.6,488.7 M127.2,562.3 L140.2,581" fill="none" stroke="#888" stroke-width="0.9"/>
<text x="399.9" y="70.7" font-family="Liberation Sans, sans-serif" font-size="4.8" fill="#666" text-anchor="middle">C2</text>
<text x="451.9" y="76.6" font-family="Liberation Sans, sans-serif" font-size="4.8" fill="#666" text-anchor="middle">C2</text>
<text x="502.1" y="91.5" font-family="Liberation Sans, sans-serif" font-size="4.8" fill="#666" text-anchor="middle">C2</text>
<text x="549.0" y="114.9" font-family="Liberation Sans, sans-serif" font-size="4.8" fill="#666" text-anchor="middle">C2</text>
<text x="591.1" y="146.0" font-family="Liberation Sans, sans-serif" font-size="4.8" fill="#666" text-anchor="middle">C2</text>
<text x="627.2" y="184.0" font-family="Liberation Sans, sans-serif" font-size="4.8" fill="#666" text-anchor="middle">C2</text>
<text x="656.1" y="227.7" font-family="Liberation Sans, sans-serif" font-size="4.8" fill="#666" text-anchor="middle">C2</text>
<text x="677.0" y="275.7" font-family="Liberation Sans, sans-serif" font-size="4.8" fill="#666" text-anchor="middle">C2</text>
<text x="689.2" y="326.7" font-family="Liberation Sans, sans-serif" font-size="4.8" fill="#666" text-anchor="middle">C2</text>
<text x="692.4" y="379.0" font-family="Liberation Sans, sans-serif" font-size="4.8" fill="#666" text-anchor="middle">C2</text>
<text x="686.5" y="431.0" font-family="Liberation Sans, sans-serif" font-size="4.8" fill="#666" text-anchor="middle">C2</text>
<text x="671.6" y="481.2" font-family="Liberation Sans, sans-serif" font-size="4.8" fill="#666" text-anchor="middle">C2</text>
<text x="648.2" y="528.1" font-family="Liberation Sans, sans-serif" font-size="4.8" fill="#666" text-anchor="middle">C2</text>
<text x="617.1" y="570.2" font-family="Liberation Sans, sans-serif" font-size="4.8" fill="#666" text-anchor="middle">C2</text>
<text x="579.1" y="606.3" font-family="Liberation Sans, sans-serif" font-size="4.8" fill="#666" text-anchor="middle">C2</text>
<text x="535.4" y="635.2" font-family="Liberation Sans, sans-serif" font-size="4.8" fill="#666" text-anchor="middle">C2</text>
<text x="487.4" y="656.1" font-family="Liberation Sans, sans-serif" font-size="4.8" fill="#666" text-anchor="middle">C2</text>
<text x="332.1" y="665.6" font-family="Liberation Sans, sans-serif" font-size="4.8" fill="#666" text-anchor="middle">C2</text>
<text x="281.9" y="650.7" font-family="Liberation Sans, sans-serif" font-size="4.8" fill="#666" text-anchor="middle">C2</text>
<text x="235.0" y="627.3" font-family="Liberation Sans, sans-serif" font-size="4.8" fill="#666" text-anchor="middle">C2</text>
<text x="192.9" y="596.2" font-family="Liberation Sans, sans-serif" font-size="4.8" fill="#666" text-anchor="middle">C2</text>
<text x="156.8" y="558.2" font-family="Liberation Sans, sans-serif" font-size="4.8" fill="#666" text-anchor="middle">C2</text>
<text x="127.9" y="514.5" font-family="Liberation Sans, sans-serif" font-size="4.8" fill="#666" text-anchor="middle">C2</text>
<text x="107.0" y="466.5" font-family="Liberation Sans, sans-serif" font-size="4.8" fill="#666" text-anchor="middle">C2</text>
<text x="94.8" y="415.5" font-family="Liberation Sans, sans-serif" font-size="4.8" fill="#666" text-anchor="middle">C2</text>
<text x="91.6" y="363.2" font-family="Liberation Sans, sans-serif" font-size="4.8" fill="#666" text-anchor="middle">C2</text>
<text x="97.5" y="311.2" font-family="Liberation Sans, sans-serif" font-size="4.8" fill="#666" text-anchor="middle">C2</text>
<text x="112.4" y="261.0" font-family="Liberation Sans, sans-serif" font-size="4.8" fill="#666" text-anchor="middle">C2</text>
<text x="135.8" y="214.1" font-family="Liberation Sans, sans-serif" font-size="4.8" fill="#666" text-anchor="middle">C2</text>
<text x="166.9" y="172.0" font-family="Liberation Sans, sans-serif" font-size="4.8" fill="#666" text-anchor="middle">C2</text>
<text x="204.9" y="135.9" font-family="Liberation Sans, sans-serif" font-size="4.8" fill="#666" text-anchor="middle">C2</text>
<text x="248.6" y="107.0" font-family="Liberation Sans, sans-serif" font-size="4.8" fill="#666" text-anchor="middle">C2</text>
<text x="296.6" y="86.1" font-family="Liberation Sans, sans-serif" font-size="4.8" fill="#666" text-anchor="middle">C2</text>
<text x="347.6" y="73.9" font-family="Liberation Sans, sans-serif" font-size="4.8" fill="#666" text-anchor="middle">C2</text>
<polyline points="142.2,190.2 263.7,190.2" fill="none" stroke="#5c5c5c" stroke-width="3.9" stroke-linejoin="miter"/>
<polyline points="283.0,190.2 324.5,190.2" fill="none" stroke="#5c5c5c" stroke-width="3.9" stroke-linejoin="miter"/>
<polyline points="347.5,190.2 403.5,190.2" fill="none" stroke="#5c5c5c" stroke-width="3.9" stroke-linejoin="miter"/>
<polyline points="421.7,190.2 498.4,190.2 498.4,184.0" fill="none" stroke="#5c5c5c" stroke-width="3.9" stroke-linejoin="miter"/>
<polyline points="498.4,166.0 498.4,164.4" fill="none" stroke="#5c5c5c" stroke-width="3.9" stroke-linejoin="miter"/>
<polyline points="524.8,164.4 524.8,190.2 528.3,190.2" fill="none" stroke="#5c5c5c" stroke-width="3.9" stroke-linejoin="miter"/>
<polyline points="546.5,190.2 641.8,190.2" fill="none" stroke="#5c5c5c" stroke-width="3.9" stroke-linejoin="miter"/>
<polyline points="283.9,81.6 283.9,190.2" fill="none" stroke="#5c5c5c" stroke-width="3.9" stroke-linejoin="miter"/>
<polyline points="443.2,66.3 443.2,190.2" fill="none" stroke="#5c5c5c" stroke-width="3.9" stroke-linejoin="miter"/>
<polyline points="511.6,86.2 511.6,146.4" fill="none" stroke="#5c5c5c" stroke-width="3.9" stroke-linejoin="miter"/>
<polyline points="168.0,190.2 168.0,174.1 231.0,174.1 231.0,190.2" fill="none" stroke="#5c5c5c" stroke-width="3.9" stroke-linejoin="miter"/>
<polyline points="230.0,190.2 230.0,159.0 236.0,159.0 236.0,161.0 252.0,161.0 252.0,159.0 258.7,159.0 258.7,190.2" fill="none" stroke="#5c5c5c" stroke-width="3.9" stroke-linejoin="miter"/>
<polyline points="375.2,162.8 375.2,190.2" fill="none" stroke="#5c5c5c" stroke-width="3.9" stroke-linejoin="miter"/>
<polyline points="496.3,164.4 496.3,146.4 526.2,146.4 526.2,164.4 496.3,164.4" fill="none" stroke="#5c5c5c" stroke-width="3.9" stroke-linejoin="miter"/>
<polyline points="625.2,170.0 625.2,190.2" fill="none" stroke="#5c5c5c" stroke-width="3.9" stroke-linejoin="miter"/>
<polyline points="211.3,190.2 211.3,212.7" fill="none" stroke="#5c5c5c" stroke-width="3.9" stroke-linejoin="miter"/>
<polyline points="211.3,229.3 211.3,277.0" fill="none" stroke="#5c5c5c" stroke-width="3.9" stroke-linejoin="miter"/>
<polyline points="211.3,297.0 211.3,355.0" fill="none" stroke="#5c5c5c" stroke-width="3.9" stroke-linejoin="miter"/>
<polyline points="211.3,373.0 211.3,440.5" fill="none" stroke="#5c5c5c" stroke-width="3.9" stroke-linejoin="miter"/>
<polyline points="211.3,458.0 211.3,497.3" fill="none" stroke="#5c5c5c" stroke-width="3.9" stroke-linejoin="miter"/>
<polyline points="105.3,258.2 211.3,258.2" fill="none" stroke="#5c5c5c" stroke-width="3.9" stroke-linejoin="miter"/>
<polyline points="85.6,395.2 211.3,395.2" fill="none" stroke="#5c5c5c" stroke-width="3.9" stroke-linejoin="miter"/>
<polyline points="184.4,327.2 211.3,327.2" fill="none" stroke="#5c5c5c" stroke-width="3.9" stroke-linejoin="miter"/>
<polyline points="112.3,497.3 222.7,497.3 222.7,520.0" fill="none" stroke="#5c5c5c" stroke-width="3.9" stroke-linejoin="miter"/>
<polyline points="222.7,540.0 222.7,547.8" fill="none" stroke="#5c5c5c" stroke-width="3.9" stroke-linejoin="miter"/>
<polyline points="141.5,547.8 222.7,547.8" fill="none" stroke="#5c5c5c" stroke-width="3.9" stroke-linejoin="miter"/>
<polyline points="234.7,547.8 341.8,547.8" fill="none" stroke="#5c5c5c" stroke-width="3.9" stroke-linejoin="miter"/>
<polyline points="362.9,547.8 375.4,547.8" fill="none" stroke="#5c5c5c" stroke-width="3.9" stroke-linejoin="miter"/>
<polyline points="408.9,547.8 421.0,547.8" fill="none" stroke="#5c5c5c" stroke-width="3.9" stroke-linejoin="miter"/>
<polyline points="442.3,547.8 549.3,547.8" fill="none" stroke="#5c5c5c" stroke-width="3.9" stroke-linejoin="miter"/>
<polyline points="565.3,547.8 642.5,547.8" fill="none" stroke="#5c5c5c" stroke-width="3.9" stroke-linejoin="miter"/>
<polyline points="234.7,547.8 234.7,574.7 302.7,574.7 302.7,547.8" fill="none" stroke="#5c5c5c" stroke-width="3.9" stroke-linejoin="miter"/>
<polyline points="270.0,547.8 270.0,574.7" fill="none" stroke="#5c5c5c" stroke-width="3.9" stroke-linejoin="miter"/>
<polyline points="236.0,574.7 236.0,634.5" fill="none" stroke="#5c5c5c" stroke-width="3.9" stroke-linejoin="miter"/>
<polyline points="392.0,547.8 392.0,677.0" fill="none" stroke="#5c5c5c" stroke-width="3.9" stroke-linejoin="miter"/>
<polyline points="477.0,574.7 548.0,574.7 548.0,547.8" fill="none" stroke="#5c5c5c" stroke-width="3.9" stroke-linejoin="miter"/>
<polyline points="513.3,547.8 513.3,574.7" fill="none" stroke="#5c5c5c" stroke-width="3.9" stroke-linejoin="miter"/>
<polyline points="548.0,574.7 548.0,634.5" fill="none" stroke="#5c5c5c" stroke-width="3.9" stroke-linejoin="miter"/>
<polyline points="619.2,547.8 619.2,574.7" fill="none" stroke="#5c5c5c" stroke-width="3.9" stroke-linejoin="miter"/>
<polyline points="149.0,547.8 149.0,566.3" fill="none" stroke="#5c5c5c" stroke-width="3.9" stroke-linejoin="miter"/>
<polyline points="572.4,241.2 572.4,279.6" fill="none" stroke="#5c5c5c" stroke-width="3.9" stroke-linejoin="miter"/>
<polyline points="572.4,296.4 572.4,362.0" fill="none" stroke="#5c5c5c" stroke-width="3.9" stroke-linejoin="miter"/>
<polyline points="572.4,385.0 572.4,438.0" fill="none" stroke="#5c5c5c" stroke-width="3.9" stroke-linejoin="miter"/>
<polyline points="572.4,460.0 572.4,506.7" fill="none" stroke="#5c5c5c" stroke-width="3.9" stroke-linejoin="miter"/>
<polyline points="572.4,528.0 572.4,547.8" fill="none" stroke="#5c5c5c" stroke-width="3.9" stroke-linejoin="miter"/>
<polyline points="562.8,190.2 562.8,218.0" fill="none" stroke="#5c5c5c" stroke-width="3.9" stroke-linejoin="miter"/>
<polyline points="562.8,232.0 562.8,241.2 671.5,241.2" fill="none" stroke="#5c5c5c" stroke-width="3.9" stroke-linejoin="miter"/>
<polyline points="572.4,343.5 698.4,343.5" fill="none" stroke="#5c5c5c" stroke-width="3.9" stroke-linejoin="miter"/>
<polyline points="572.4,411.2 696.7,411.2" fill="none" stroke="#5c5c5c" stroke-width="3.9" stroke-linejoin="miter"/>
<polyline points="572.4,479.1 679.3,479.1" fill="none" stroke="#5c5c5c" stroke-width="3.9" stroke-linejoin="miter"/>
<polyline points="238.7,241.5 477.2,241.5 495.0,241.5 495.0,248.0" fill="none" stroke="#5c5c5c" stroke-width="3.9" stroke-linejoin="miter"/>
<polyline points="495.0,262.0 495.0,268.3" fill="none" stroke="#5c5c5c" stroke-width="3.9" stroke-linejoin="miter"/>
<polyline points="306.4,241.5 306.4,497.3 477.2,497.3 477.2,241.5" fill="none" stroke="#5c5c5c" stroke-width="3.9" stroke-linejoin="miter"/>
<polyline points="238.7,241.5 238.7,271.5" fill="none" stroke="#5c5c5c" stroke-width="3.9" stroke-linejoin="miter"/>
<polyline points="238.7,289.0 238.7,355.8" fill="none" stroke="#5c5c5c" stroke-width="3.9" stroke-linejoin="miter"/>
<polyline points="238.7,373.9 238.7,420.8" fill="none" stroke="#5c5c5c" stroke-width="3.9" stroke-linejoin="miter"/>
<polyline points="238.7,438.0 238.7,469.5 306.4,469.5" fill="none" stroke="#5c5c5c" stroke-width="3.9" stroke-linejoin="miter"/>
<polyline points="238.7,327.0 306.4,327.0" fill="none" stroke="#5c5c5c" stroke-width="3.9" stroke-linejoin="miter"/>
<polyline points="238.7,394.6 306.4,394.6" fill="none" stroke="#5c5c5c" stroke-width="3.9" stroke-linejoin="miter"/>
<polyline points="285.0,469.5 285.0,494.8 297.0,494.8" fill="none" stroke="#5c5c5c" stroke-width="3.9" stroke-linejoin="miter"/>
<polyline points="477.2,268.3 546.4,268.3 546.4,299.0" fill="none" stroke="#5c5c5c" stroke-width="3.9" stroke-linejoin="miter"/>
<polyline points="546.4,316.8 546.4,380.0" fill="none" stroke="#5c5c5c" stroke-width="3.9" stroke-linejoin="miter"/>
<polyline points="546.4,400.0 546.4,441.5" fill="none" stroke="#5c5c5c" stroke-width="3.9" stroke-linejoin="miter"/>
<polyline points="477.2,353.2 546.4,353.2" fill="none" stroke="#5c5c5c" stroke-width="3.9" stroke-linejoin="miter"/>
<polyline points="477.2,421.9 546.4,421.9" fill="none" stroke="#5c5c5c" stroke-width="3.9" stroke-linejoin="miter"/>
<polyline points="142.2,190.2 263.7,190.2" fill="none" stroke="#767676" stroke-width="2.2" stroke-linejoin="miter"/>
<polyline points="283.0,190.2 324.5,190.2" fill="none" stroke="#767676" stroke-width="2.2" stroke-linejoin="miter"/>
<polyline points="347.5,190.2 403.5,190.2" fill="none" stroke="#767676" stroke-width="2.2" stroke-linejoin="miter"/>
<polyline points="421.7,190.2 498.4,190.2 498.4,184.0" fill="none" stroke="#767676" stroke-width="2.2" stroke-linejoin="miter"/>
<polyline points="498.4,166.0 498.4,164.4" fill="none" stroke="#767676" stroke-width="2.2" stroke-linejoin="miter"/>
<polyline points="524.8,164.4 524.8,190.2 528.3,190.2" fill="none" stroke="#767676" stroke-width="2.2" stroke-linejoin="miter"/>
<polyline points="546.5,190.2 641.8,190.2" fill="none" stroke="#767676" stroke-width="2.2" stroke-linejoin="miter"/>
<polyline points="283.9,81.6 283.9,190.2" fill="none" stroke="#767676" stroke-width="2.2" stroke-linejoin="miter"/>
<polyline points="443.2,66.3 443.2,190.2" fill="none" stroke="#767676" stroke-width="2.2" stroke-linejoin="miter"/>
<polyline points="511.6,86.2 511.6,146.4" fill="none" stroke="#767676" stroke-width="2.2" stroke-linejoin="miter"/>
<polyline points="168.0,190.2 168.0,174.1 231.0,174.1 231.0,190.2" fill="none" stroke="#767676" stroke-width="2.2" stroke-linejoin="miter"/>
<polyline points="230.0,190.2 230.0,159.0 236.0,159.0 236.0,161.0 252.0,161.0 252.0,159.0 258.7,159.0 258.7,190.2" fill="none" stroke="#767676" stroke-width="2.2" stroke-linejoin="miter"/>
<polyline points="375.2,162.8 375.2,190.2" fill="none" stroke="#767676" stroke-width="2.2" stroke-linejoin="miter"/>
<polyline points="496.3,164.4 496.3,146.4 526.2,146.4 526.2,164.4 496.3,164.4" fill="none" stroke="#767676" stroke-width="2.2" stroke-linejoin="miter"/>
<polyline points="625.2,170.0 625.2,190.2" fill="none" stroke="#767676" stroke-width="2.2" stroke-linejoin="miter"/>
<polyline points="211.3,190.2 211.3,212.7" fill="none" stroke="#767676" stroke-width="2.2" stroke-linejoin="miter"/>
<polyline points="211.3,229.3 211.3,277.0" fill="none" stroke="#767676" stroke-width="2.2" stroke-linejoin="miter"/>
<polyline points="211.3,297.0 211.3,355.0" fill="none" stroke="#767676" stroke-width="2.2" stroke-linejoin="miter"/>
<polyline points="211.3,373.0 211.3,440.5" fill="none" stroke="#767676" stroke-width="2.2" stroke-linejoin="miter"/>
<polyline points="211.3,458.0 211.3,497.3" fill="none" stroke="#767676" stroke-width="2.2" stroke-linejoin="miter"/>
<polyline points="105.3,258.2 211.3,258.2" fill="none" stroke="#767676" stroke-width="2.2" stroke-linejoin="miter"/>
<polyline points="85.6,395.2 211.3,395.2" fill="none" stroke="#767676" stroke-width="2.2" stroke-linejoin="miter"/>
<polyline points="184.4,327.2 211.3,327.2" fill="none" stroke="#767676" stroke-width="2.2" stroke-linejoin="miter"/>
<polyline points="112.3,497.3 222.7,497.3 222.7,520.0" fill="none" stroke="#767676" stroke-width="2.2" stroke-linejoin="miter"/>
<polyline points="222.7,540.0 222.7,547.8" fill="none" stroke="#767676" stroke-width="2.2" stroke-linejoin="miter"/>
<polyline points="141.5,547.8 222.7,547.8" fill="none" stroke="#767676" stroke-width="2.2" stroke-linejoin="miter"/>
<polyline points="234.7,547.8 341.8,547.8" fill="none" stroke="#767676" stroke-width="2.2" stroke-linejoin="miter"/>
<polyline points="362.9,547.8 375.4,547.8" fill="none" stroke="#767676" stroke-width="2.2" stroke-linejoin="miter"/>
<polyline points="408.9,547.8 421.0,547.8" fill="none" stroke="#767676" stroke-width="2.2" stroke-linejoin="miter"/>
<polyline points="442.3,547.8 549.3,547.8" fill="none" stroke="#767676" stroke-width="2.2" stroke-linejoin="miter"/>
<polyline points="565.3,547.8 642.5,547.8" fill="none" stroke="#767676" stroke-width="2.2" stroke-linejoin="miter"/>
<polyline points="234.7,547.8 234.7,574.7 302.7,574.7 302.7,547.8" fill="none" stroke="#767676" stroke-width="2.2" stroke-linejoin="miter"/>
<polyline points="270.0,547.8 270.0,574.7" fill="none" stroke="#767676" stroke-width="2.2" stroke-linejoin="miter"/>
<polyline points="236.0,574.7 236.0,634.5" fill="none" stroke="#767676" stroke-width="2.2" stroke-linejoin="miter"/>
<polyline points="392.0,547.8 392.0,677.0" fill="none" stroke="#767676" stroke-width="2.2" stroke-linejoin="miter"/>
<polyline points="477.0,574.7 548.0,574.7 548.0,547.8" fill="none" stroke="#767676" stroke-width="2.2" stroke-linejoin="miter"/>
<polyline points="513.3,547.8 513.3,574.7" fill="none" stroke="#767676" stroke-width="2.2" stroke-linejoin="miter"/>
<polyline points="548.0,574.7 548.0,634.5" fill="none" stroke="#767676" stroke-width="2.2" stroke-linejoin="miter"/>
<polyline points="619.2,547.8 619.2,574.7" fill="none" stroke="#767676" stroke-width="2.2" stroke-linejoin="miter"/>
<polyline points="149.0,547.8 149.0,566.3" fill="none" stroke="#767676" stroke-width="2.2" stroke-linejoin="miter"/>
<polyline points="572.4,241.2 572.4,279.6" fill="none" stroke="#767676" stroke-width="2.2" stroke-linejoin="miter"/>
<polyline points="572.4,296.4 572.4,362.0" fill="none" stroke="#767676" stroke-width="2.2" stroke-linejoin="miter"/>
<polyline points="572.4,385.0 572.4,438.0" fill="none" stroke="#767676" stroke-width="2.2" stroke-linejoin="miter"/>
<polyline points="572.4,460.0 572.4,506.7" fill="none" stroke="#767676" stroke-width="2.2" stroke-linejoin="miter"/>
<polyline points="572.4,528.0 572.4,547.8" fill="none" stroke="#767676" stroke-width="2.2" stroke-linejoin="miter"/>
<polyline points="562.8,190.2 562.8,218.0" fill="none" stroke="#767676" stroke-width="2.2" stroke-linejoin="miter"/>
<polyline points="562.8,232.0 562.8,241.2 671.5,241.2" fill="none" stroke="#767676" stroke-width="2.2" stroke-linejoin="miter"/>
<polyline points="572.4,343.5 698.4,343.5" fill="none" stroke="#767676" stroke-width="2.2" stroke-linejoin="miter"/>
<polyline points="572.4,411.2 696.7,411.2" fill="none" stroke="#767676" stroke-width="2.2" stroke-linejoin="miter"/>
<polyline points="572.4,479.1 679.3,479.1" fill="none" stroke="#767676" stroke-width="2.2" stroke-linejoin="miter"/>
<polyline points="238.7,241.5 477.2,241.5 495.0,241.5 495.0,248.0" fill="none" stroke="#767676" stroke-width="2.2" stroke-linejoin="miter"/>
<polyline points="495.0,262.0 495.0,268.3" fill="none" stroke="#767676" stroke-width="2.2" stroke-linejoin="miter"/>
<polyline points="306.4,241.5 306.4,497.3 477.2,497.3 477.2,241.5" fill="none" stroke="#767676" stroke-width="2.2" stroke-linejoin="miter"/>
<polyline points="238.7,241.5 238.7,271.5" fill="none" stroke="#767676" stroke-width="2.2" stroke-linejoin="miter"/>
<polyline points="238.7,289.0 238.7,355.8" fill="none" stroke="#767676" stroke-width="2.2" stroke-linejoin="miter"/>
<polyline points="238.7,373.9 238.7,420.8" fill="none" stroke="#767676" stroke-width="2.2" stroke-linejoin="miter"/>
<polyline points="238.7,438.0 238.7,469.5 306.4,469.5" fill="none" stroke="#767676" stroke-width="2.2" stroke-linejoin="miter"/>
<polyline points="238.7,327.0 306.4,327.0" fill="none" stroke="#767676" stroke-width="2.2" stroke-linejoin="miter"/>
<polyline points="238.7,394.6 306.4,394.6" fill="none" stroke="#767676" stroke-width="2.2" stroke-linejoin="miter"/>
<polyline points="285.0,469.5 285.0,494.8 297.0,494.8" fill="none" stroke="#767676" stroke-width="2.2" stroke-linejoin="miter"/>
<polyline points="477.2,268.3 546.4,268.3 546.4,299.0" fill="none" stroke="#767676" stroke-width="2.2" stroke-linejoin="miter"/>
<polyline points="546.4,316.8 546.4,380.0" fill="none" stroke="#767676" stroke-width="2.2" stroke-linejoin="miter"/>
<polyline points="546.4,400.0 546.4,441.5" fill="none" stroke="#767676" stroke-width="2.2" stroke-linejoin="miter"/>
<polyline points="477.2,353.2 546.4,353.2" fill="none" stroke="#767676" stroke-width="2.2" stroke-linejoin="miter"/>
<polyline points="477.2,421.9 546.4,421.9" fill="none" stroke="#767676" stroke-width="2.2" stroke-linejoin="miter"/>
<polyline points="284.0,162.8 324.0,162.8" fill="none" stroke="#151515" stroke-width="2.7"/>
<polyline points="322.5,172.0 322.5,188.0" fill="none" stroke="#151515" stroke-width="2.7"/>
<polyline points="351.7,189.0 351.7,162.8 398.7,162.8 398.7,189.0" fill="none" stroke="#151515" stroke-width="2.7"/>
<polyline points="426.6,189.0 426.6,162.4 466.5,162.4 466.5,189.0" fill="none" stroke="#151515" stroke-width="2.7"/>
<polyline points="594.0,190.2 594.0,180.0 609.6,170.4" fill="none" stroke="#151515" stroke-width="2.7"/>
<polyline points="184.4,190.2 184.4,206.0" fill="none" stroke="#151515" stroke-width="2.7"/>
<polyline points="193.3,207.2 211.3,207.2" fill="none" stroke="#151515" stroke-width="2.7"/>
<polyline points="196.0,235.3 211.3,235.3" fill="none" stroke="#151515" stroke-width="2.7"/>
<polyline points="184.4,235.3 184.4,276.0" fill="none" stroke="#151515" stroke-width="2.7"/>
<polyline points="193.0,275.3 211.3,275.3" fill="none" stroke="#151515" stroke-width="2.7"/>
<polyline points="196.0,302.7 211.3,302.7" fill="none" stroke="#151515" stroke-width="2.7"/>
<polyline points="184.4,302.7 184.4,350.5" fill="none" stroke="#151515" stroke-width="2.7"/>
<polyline points="193.0,350.0 211.3,350.0" fill="none" stroke="#151515" stroke-width="2.7"/>
<polyline points="196.0,378.4 211.3,378.4" fill="none" stroke="#151515" stroke-width="2.7"/>
<polyline points="184.4,378.4 184.4,418.5" fill="none" stroke="#151515" stroke-width="2.7"/>
<polyline points="193.0,418.0 211.3,418.0" fill="none" stroke="#151515" stroke-width="2.7"/>
<polyline points="184.4,497.3 184.4,480.4" fill="none" stroke="#151515" stroke-width="2.7"/>
<polyline points="196.0,480.4 211.3,480.4" fill="none" stroke="#151515" stroke-width="2.7"/>
<polyline points="306.7,574.7 328.8,574.7 328.8,556.0" fill="none" stroke="#151515" stroke-width="2.7"/>
<polyline points="375.4,547.8 375.4,575.3 408.9,575.3 408.9,547.8" fill="none" stroke="#151515" stroke-width="2.7"/>
<polyline points="454.8,556.0 454.8,574.7 476.5,574.7" fill="none" stroke="#151515" stroke-width="2.7"/>
<polyline points="160.0,547.8 160.0,566.3 175.4,566.3 175.4,547.8" fill="none" stroke="#151515" stroke-width="2.7"/>
<polyline points="660.0,241.2 660.0,252.0 675.0,252.0" fill="none" stroke="#151515" stroke-width="2.7"/>
<polyline points="572.4,255.6 602.9,255.6 602.9,241.2" fill="none" stroke="#151515" stroke-width="2.7"/>
<polyline points="572.4,320.9 602.0,320.9 602.0,359.6 572.4,359.6" fill="none" stroke="#151515" stroke-width="2.7"/>
<polyline points="572.4,388.6 602.0,388.6 602.0,435.4 572.4,435.4" fill="none" stroke="#151515" stroke-width="2.7"/>
<polyline points="572.4,463.0 602.0,463.0 602.0,503.5 572.4,503.5" fill="none" stroke="#151515" stroke-width="2.7"/>
<polyline points="572.4,530.7 601.3,530.7 601.3,547.8" fill="none" stroke="#151515" stroke-width="2.7"/>
<polyline points="266.0,241.5 266.0,258.0" fill="none" stroke="#151515" stroke-width="2.7"/>
<polyline points="238.7,258.0 256.0,258.0" fill="none" stroke="#151515" stroke-width="2.7"/>
<polyline points="238.7,303.3 266.0,303.3 266.0,350.0 255.0,350.0" fill="none" stroke="#151515" stroke-width="2.7"/>
<polyline points="238.7,378.4 266.0,378.4 266.0,410.9 255.0,410.9" fill="none" stroke="#151515" stroke-width="2.7"/>
<polyline points="238.7,446.0 266.0,446.0 266.0,469.5" fill="none" stroke="#151515" stroke-width="2.7"/>
<polyline points="518.4,268.3 518.4,286.0 527.0,286.0" fill="none" stroke="#151515" stroke-width="2.7"/>
<polyline points="518.4,353.2 518.4,330.8 546.4,330.8" fill="none" stroke="#151515" stroke-width="2.7"/>
<polyline points="518.4,353.2 518.4,377.0 546.4,377.0" fill="none" stroke="#151515" stroke-width="2.7"/>
<polyline points="518.4,421.9 518.4,405.6 546.4,405.6" fill="none" stroke="#151515" stroke-width="2.7"/>
<polyline points="490.0,441.5 546.4,441.5" fill="none" stroke="#151515" stroke-width="2.7"/>
<rect x="207.9" y="186.8" width="7.2" height="7.2" fill="#2a2a2a"/>
<rect x="303.4" y="186.6" width="7.2" height="7.2" fill="#2a2a2a"/>
<rect x="473.7" y="186.6" width="7.2" height="7.2" fill="#2a2a2a"/>
<rect x="568.8" y="186.0" width="7.2" height="7.2" fill="#2a2a2a"/>
<rect x="207.7" y="237.7" width="7.2" height="7.2" fill="#2a2a2a"/>
<rect x="207.7" y="323.6" width="7.2" height="7.2" fill="#2a2a2a"/>
<rect x="207.7" y="407.7" width="7.2" height="7.2" fill="#2a2a2a"/>
<rect x="207.7" y="493.7" width="7.2" height="7.2" fill="#2a2a2a"/>
<rect x="207.4" y="544.4" width="7.2" height="7.2" fill="#2a2a2a"/>
<rect x="302.9" y="237.9" width="7.2" height="7.2" fill="#2a2a2a"/>
<rect x="302.9" y="323.4" width="7.2" height="7.2" fill="#2a2a2a"/>
<rect x="302.9" y="408.2" width="7.2" height="7.2" fill="#2a2a2a"/>
<rect x="302.9" y="492.9" width="7.2" height="7.2" fill="#2a2a2a"/>
<rect x="303.1" y="544.4" width="7.2" height="7.2" fill="#2a2a2a"/>
<rect x="473.6" y="237.9" width="7.2" height="7.2" fill="#2a2a2a"/>
<rect x="473.6" y="322.5" width="7.2" height="7.2" fill="#2a2a2a"/>
<rect x="473.6" y="408.0" width="7.2" height="7.2" fill="#2a2a2a"/>
<rect x="473.7" y="493.4" width="7.2" height="7.2" fill="#2a2a2a"/>
<rect x="472.9" y="544.4" width="7.2" height="7.2" fill="#2a2a2a"/>
<rect x="568.8" y="237.6" width="7.2" height="7.2" fill="#2a2a2a"/>
<rect x="568.8" y="322.5" width="7.2" height="7.2" fill="#2a2a2a"/>
<rect x="568.8" y="407.6" width="7.2" height="7.2" fill="#2a2a2a"/>
<rect x="568.8" y="492.8" width="7.2" height="7.2" fill="#2a2a2a"/>
<rect x="568.9" y="544.4" width="7.2" height="7.2" fill="#2a2a2a"/>
<line x1="324.3" y1="241.5" x2="355" y2="241.5" stroke="#222" stroke-width="2.4" stroke-dasharray="1.5 1.2"/>
<line x1="324.3" y1="497.3" x2="355" y2="497.3" stroke="#222" stroke-width="2.4" stroke-dasharray="1.5 1.2"/>
<line x1="428.3" y1="241.5" x2="459" y2="241.5" stroke="#222" stroke-width="2.4" stroke-dasharray="1.5 1.2"/>
<line x1="428.3" y1="497.3" x2="459" y2="497.3" stroke="#222" stroke-width="2.4" stroke-dasharray="1.5 1.2"/>
<rect x="302.6" y="75.4" width="6" height="6" fill="#fff" stroke="#222" stroke-width="1.2" transform="rotate(-16.5 305.6 78.4)"/>
<rect x="208.7" y="121.3" width="6" height="6" fill="#fff" stroke="#222" stroke-width="1.2" transform="rotate(-36.3 211.7 124.3)"/>
<rect x="112.7" y="238.6" width="6" height="6" fill="#fff" stroke="#222" stroke-width="1.2" transform="rotate(-65.2 115.7 241.6)"/>
<rect x="87.7" y="323.4" width="6" height="6" fill="#fff" stroke="#222" stroke-width="1.2" transform="rotate(-81.9 90.7 326.4)"/>
<rect x="473.4" y="74.3" width="6" height="6" fill="#fff" stroke="#222" stroke-width="1.2" transform="rotate(16.1 476.4 77.3)"/>
<rect x="568.3" y="121.3" width="6" height="6" fill="#fff" stroke="#222" stroke-width="1.2" transform="rotate(36.2 571.3 124.3)"/>
<rect x="664.3" y="238.2" width="6" height="6" fill="#fff" stroke="#222" stroke-width="1.2" transform="rotate(65.0 667.3 241.2)"/>
<rect x="691.0" y="320.7" width="6" height="6" fill="#fff" stroke="#222" stroke-width="1.2" transform="rotate(81.4 694.0 323.7)"/>
<rect x="87.7" y="409.4" width="6" height="6" fill="#fff" stroke="#222" stroke-width="1.2" transform="rotate(-98.1 90.7 412.4)"/>
<rect x="113.3" y="493.7" width="6" height="6" fill="#fff" stroke="#222" stroke-width="1.2" transform="rotate(-114.8 116.3 496.7)"/>
<rect x="208.7" y="610.0" width="6" height="6" fill="#fff" stroke="#222" stroke-width="1.2" transform="rotate(-143.5 211.7 613.0)"/>
<rect x="303.7" y="657.4" width="6" height="6" fill="#fff" stroke="#222" stroke-width="1.2" transform="rotate(-163.7 306.7 660.4)"/>
<rect x="691.0" y="409.4" width="6" height="6" fill="#fff" stroke="#222" stroke-width="1.2" transform="rotate(98.1 694.0 412.4)"/>
<rect x="665.4" y="492.6" width="6" height="6" fill="#fff" stroke="#222" stroke-width="1.2" transform="rotate(114.5 668.4 495.6)"/>
<rect x="570.0" y="610.0" width="6" height="6" fill="#fff" stroke="#222" stroke-width="1.2" transform="rotate(143.4 573.0 613.0)"/>
<rect x="474.0" y="657.4" width="6" height="6" fill="#fff" stroke="#222" stroke-width="1.2" transform="rotate(163.7 477.0 660.4)"/>
<rect x="142.6" y="186.3" width="6" height="6" fill="#fff" stroke="#222" stroke-width="1.2" transform="rotate(-53.8 145.6 189.3)"/>
<rect x="635.0" y="186.3" width="6" height="6" fill="#fff" stroke="#222" stroke-width="1.2" transform="rotate(53.8 638.0 189.3)"/>
<rect x="142.6" y="546.0" width="6" height="6" fill="#fff" stroke="#222" stroke-width="1.2" transform="rotate(-126.1 145.6 549.0)"/>
<rect x="635.0" y="546.0" width="6" height="6" fill="#fff" stroke="#222" stroke-width="1.2" transform="rotate(126.1 638.0 549.0)"/>
</svg></body></html>
